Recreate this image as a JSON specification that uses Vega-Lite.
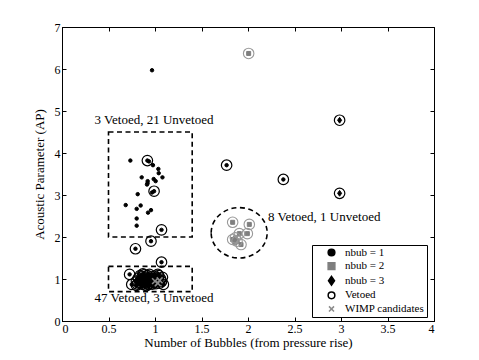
{
  "$schema": "https://vega.github.io/schema/vega-lite/v6.json",
  "autosize": "none",
  "width": 372,
  "height": 294,
  "padding": {"left": 62, "top": 27, "right": 45, "bottom": 39},
  "background": "white",
  "config": {
    "view": {"stroke": "black", "strokeWidth": 1},
    "font": "Liberation Serif",
    "axis": {"labelFont": "Liberation Serif", "titleFont": "Liberation Serif", "labelFontSize": 12, "titleFontSize": 13, "titleFontWeight": "normal", "labelColor": "black", "titleColor": "black", "tickColor": "black", "domainColor": "black", "grid": false, "tickSize": -4, "labelPadding": 6},
    "legend": {"orient": "none", "legendX": 250, "legendY": 218, "strokeColor": "black", "fillColor": "white", "padding": 2, "labelFont": "Liberation Serif", "labelFontSize": 11, "labelColor": "black", "symbolSize": 45, "rowPadding": 0.6, "symbolStrokeWidth": 1.5, "labelOffset": 8, "symbolOffset": 12, "titleFontSize": 0}
  },
  "datasets": {
    "events": [
      {"x": 0.968, "y": 5.97, "nbub": 1, "type": "nbub = 1", "vetoed": false, "wimp": false},
      {"x": 0.735, "y": 3.82, "nbub": 1, "type": "nbub = 1", "vetoed": false, "wimp": false},
      {"x": 0.918, "y": 3.82, "nbub": 1, "type": "nbub = 1", "vetoed": true, "wimp": false},
      {"x": 0.935, "y": 3.80, "nbub": 1, "type": "nbub = 1", "vetoed": false, "wimp": false},
      {"x": 0.978, "y": 3.71, "nbub": 1, "type": "nbub = 1", "vetoed": false, "wimp": false},
      {"x": 1.036, "y": 3.62, "nbub": 1, "type": "nbub = 1", "vetoed": false, "wimp": false},
      {"x": 1.04, "y": 3.52, "nbub": 1, "type": "nbub = 1", "vetoed": false, "wimp": false},
      {"x": 1.08, "y": 3.42, "nbub": 1, "type": "nbub = 1", "vetoed": false, "wimp": false},
      {"x": 0.857, "y": 3.42, "nbub": 1, "type": "nbub = 1", "vetoed": false, "wimp": false},
      {"x": 0.986, "y": 3.38, "nbub": 1, "type": "nbub = 1", "vetoed": false, "wimp": false},
      {"x": 1.007, "y": 3.33, "nbub": 1, "type": "nbub = 1", "vetoed": false, "wimp": false},
      {"x": 0.921, "y": 3.33, "nbub": 1, "type": "nbub = 1", "vetoed": false, "wimp": false},
      {"x": 0.914, "y": 3.25, "nbub": 1, "type": "nbub = 1", "vetoed": false, "wimp": false},
      {"x": 0.92, "y": 3.28, "nbub": 1, "type": "nbub = 1", "vetoed": false, "wimp": false},
      {"x": 0.99, "y": 3.09, "nbub": 1, "type": "nbub = 1", "vetoed": true, "wimp": false},
      {"x": 0.968, "y": 3.06, "nbub": 1, "type": "nbub = 1", "vetoed": false, "wimp": false},
      {"x": 0.814, "y": 3.02, "nbub": 1, "type": "nbub = 1", "vetoed": false, "wimp": false},
      {"x": 0.685, "y": 2.76, "nbub": 1, "type": "nbub = 1", "vetoed": false, "wimp": false},
      {"x": 0.846, "y": 2.75, "nbub": 1, "type": "nbub = 1", "vetoed": false, "wimp": false},
      {"x": 0.803, "y": 2.67, "nbub": 1, "type": "nbub = 1", "vetoed": false, "wimp": false},
      {"x": 0.957, "y": 2.64, "nbub": 1, "type": "nbub = 1", "vetoed": false, "wimp": false},
      {"x": 0.925, "y": 2.58, "nbub": 1, "type": "nbub = 1", "vetoed": false, "wimp": false},
      {"x": 0.803, "y": 2.44, "nbub": 1, "type": "nbub = 1", "vetoed": false, "wimp": false},
      {"x": 0.803, "y": 2.27, "nbub": 1, "type": "nbub = 1", "vetoed": false, "wimp": false},
      {"x": 1.07, "y": 2.17, "nbub": 1, "type": "nbub = 1", "vetoed": true, "wimp": false},
      {"x": 0.79, "y": 1.72, "nbub": 1, "type": "nbub = 1", "vetoed": true, "wimp": false},
      {"x": 0.957, "y": 1.90, "nbub": 1, "type": "nbub = 1", "vetoed": true, "wimp": false},
      {"x": 1.07, "y": 1.40, "nbub": 1, "type": "nbub = 1", "vetoed": true, "wimp": false},
      {"x": 1.77, "y": 3.71, "nbub": 1, "type": "nbub = 1", "vetoed": true, "wimp": false},
      {"x": 2.38, "y": 3.37, "nbub": 1, "type": "nbub = 1", "vetoed": true, "wimp": false},
      {"x": 2.985, "y": 4.78, "nbub": 3, "type": "nbub = 3", "vetoed": true, "wimp": false},
      {"x": 2.985, "y": 3.04, "nbub": 3, "type": "nbub = 3", "vetoed": true, "wimp": false},
      {"x": 2.007, "y": 6.37, "nbub": 2, "type": "nbub = 2", "vetoed": true, "wimp": false},
      {"x": 1.835, "y": 2.35, "nbub": 2, "type": "nbub = 2", "vetoed": true, "wimp": false},
      {"x": 2.014, "y": 2.30, "nbub": 2, "type": "nbub = 2", "vetoed": true, "wimp": false},
      {"x": 1.993, "y": 2.08, "nbub": 2, "type": "nbub = 2", "vetoed": true, "wimp": false},
      {"x": 1.907, "y": 2.08, "nbub": 2, "type": "nbub = 2", "vetoed": true, "wimp": false},
      {"x": 1.864, "y": 1.98, "nbub": 2, "type": "nbub = 2", "vetoed": true, "wimp": false},
      {"x": 1.835, "y": 1.94, "nbub": 2, "type": "nbub = 2", "vetoed": true, "wimp": false},
      {"x": 1.882, "y": 1.90, "nbub": 2, "type": "nbub = 2", "vetoed": true, "wimp": false},
      {"x": 1.925, "y": 1.82, "nbub": 2, "type": "nbub = 2", "vetoed": true, "wimp": false},
      {"x": 1.86, "y": 1.86, "nbub": 2, "type": "nbub = 2", "vetoed": false, "wimp": false},
      {"x": 0.727, "y": 1.11, "nbub": 1, "type": "nbub = 1", "vetoed": true, "wimp": false},
      {"x": 0.75, "y": 0.87, "nbub": 1, "type": "nbub = 1", "vetoed": true, "wimp": false},
      {"x": 1.09, "y": 0.87, "nbub": 1, "type": "nbub = 1", "vetoed": true, "wimp": false},
      {"x": 0.80, "y": 0.85, "nbub": 1, "type": "nbub = 1", "vetoed": true, "wimp": false},
      {"x": 0.80, "y": 0.95, "nbub": 1, "type": "nbub = 1", "vetoed": true, "wimp": false},
      {"x": 0.82, "y": 1.02, "nbub": 1, "type": "nbub = 1", "vetoed": true, "wimp": false},
      {"x": 0.83, "y": 0.90, "nbub": 1, "type": "nbub = 1", "vetoed": true, "wimp": false},
      {"x": 0.84, "y": 1.08, "nbub": 1, "type": "nbub = 1", "vetoed": true, "wimp": false},
      {"x": 0.85, "y": 0.97, "nbub": 1, "type": "nbub = 1", "vetoed": true, "wimp": false},
      {"x": 0.86, "y": 0.88, "nbub": 1, "type": "nbub = 1", "vetoed": true, "wimp": false},
      {"x": 0.86, "y": 1.05, "nbub": 1, "type": "nbub = 1", "vetoed": true, "wimp": false},
      {"x": 0.87, "y": 0.93, "nbub": 1, "type": "nbub = 1", "vetoed": true, "wimp": false},
      {"x": 0.88, "y": 1.00, "nbub": 1, "type": "nbub = 1", "vetoed": true, "wimp": false},
      {"x": 0.88, "y": 1.10, "nbub": 1, "type": "nbub = 1", "vetoed": true, "wimp": false},
      {"x": 0.89, "y": 0.86, "nbub": 1, "type": "nbub = 1", "vetoed": true, "wimp": false},
      {"x": 0.90, "y": 0.96, "nbub": 1, "type": "nbub = 1", "vetoed": true, "wimp": false},
      {"x": 0.90, "y": 1.04, "nbub": 1, "type": "nbub = 1", "vetoed": true, "wimp": false},
      {"x": 0.91, "y": 0.90, "nbub": 1, "type": "nbub = 1", "vetoed": true, "wimp": false},
      {"x": 0.92, "y": 0.99, "nbub": 1, "type": "nbub = 1", "vetoed": true, "wimp": false},
      {"x": 0.92, "y": 1.08, "nbub": 1, "type": "nbub = 1", "vetoed": true, "wimp": false},
      {"x": 0.93, "y": 0.87, "nbub": 1, "type": "nbub = 1", "vetoed": true, "wimp": false},
      {"x": 0.93, "y": 0.94, "nbub": 1, "type": "nbub = 1", "vetoed": true, "wimp": false},
      {"x": 0.94, "y": 1.02, "nbub": 1, "type": "nbub = 1", "vetoed": true, "wimp": false},
      {"x": 0.95, "y": 0.91, "nbub": 1, "type": "nbub = 1", "vetoed": true, "wimp": false},
      {"x": 0.95, "y": 0.98, "nbub": 1, "type": "nbub = 1", "vetoed": true, "wimp": false},
      {"x": 0.96, "y": 1.06, "nbub": 1, "type": "nbub = 1", "vetoed": true, "wimp": false},
      {"x": 0.97, "y": 0.88, "nbub": 1, "type": "nbub = 1", "vetoed": true, "wimp": false},
      {"x": 0.97, "y": 0.95, "nbub": 1, "type": "nbub = 1", "vetoed": true, "wimp": false},
      {"x": 0.98, "y": 1.01, "nbub": 1, "type": "nbub = 1", "vetoed": true, "wimp": false},
      {"x": 0.99, "y": 0.92, "nbub": 1, "type": "nbub = 1", "vetoed": true, "wimp": false},
      {"x": 1.00, "y": 1.07, "nbub": 1, "type": "nbub = 1", "vetoed": true, "wimp": false},
      {"x": 1.01, "y": 0.89, "nbub": 1, "type": "nbub = 1", "vetoed": true, "wimp": false},
      {"x": 1.02, "y": 1.03, "nbub": 1, "type": "nbub = 1", "vetoed": true, "wimp": false},
      {"x": 1.04, "y": 1.08, "nbub": 1, "type": "nbub = 1", "vetoed": true, "wimp": false},
      {"x": 1.06, "y": 1.00, "nbub": 1, "type": "nbub = 1", "vetoed": true, "wimp": false},
      {"x": 1.07, "y": 0.94, "nbub": 1, "type": "nbub = 1", "vetoed": true, "wimp": false},
      {"x": 1.08, "y": 1.04, "nbub": 1, "type": "nbub = 1", "vetoed": true, "wimp": false},
      {"x": 0.84, "y": 0.92, "nbub": 1, "type": "nbub = 1", "vetoed": true, "wimp": false},
      {"x": 0.87, "y": 1.12, "nbub": 1, "type": "nbub = 1", "vetoed": true, "wimp": false},
      {"x": 0.91, "y": 0.84, "nbub": 1, "type": "nbub = 1", "vetoed": true, "wimp": false},
      {"x": 0.94, "y": 1.11, "nbub": 1, "type": "nbub = 1", "vetoed": true, "wimp": false},
      {"x": 0.89, "y": 0.93, "nbub": 1, "type": "nbub = 1", "vetoed": true, "wimp": false},
      {"x": 1.03, "y": 1.11, "nbub": 1, "type": "nbub = 1", "vetoed": true, "wimp": false},
      {"x": 0.81, "y": 0.88, "nbub": 1, "type": "nbub = 1", "vetoed": true, "wimp": false},
      {"x": 1.05, "y": 0.90, "nbub": 1, "type": "nbub = 1", "vetoed": true, "wimp": false},
      {"x": 1.00, "y": 0.95, "nbub": 1, "type": "nbub = 1", "vetoed": false, "wimp": true},
      {"x": 1.03, "y": 0.90, "nbub": 1, "type": "nbub = 1", "vetoed": false, "wimp": true},
      {"x": 1.05, "y": 0.97, "nbub": 1, "type": "nbub = 1", "vetoed": false, "wimp": true}
    ],
    "boxes": [
      {"x1": 0.5, "x2": 1.4, "y1": 2.0, "y2": 4.5},
      {"x1": 0.5, "x2": 1.4, "y1": 0.7, "y2": 1.3}
    ],
    "ellipse": [{"x": 1.905, "y": 2.1}],
    "labels": [
      {"x": 0.35, "y": 4.78, "text": "3 Vetoed, 21 Unvetoed"},
      {"x": 0.35, "y": 0.55, "text": "47 Vetoed, 3 Unvetoed"},
      {"x": 2.215, "y": 2.48, "text": "8 Vetoed, 1 Unvetoed"}
    ]
  },
  "layer": [
    {
      "data": {"name": "boxes"},
      "mark": {"type": "rect", "fill": null, "stroke": "black", "strokeWidth": 1.6, "strokeDash": [5, 3.5]},
      "encoding": {
        "x": {"field": "x1", "type": "quantitative", "scale": {"domain": [0, 4], "nice": false, "zero": false}, "axis": {"orient": "top", "labels": false, "domain": false, "title": null, "values": [0, 0.5, 1, 1.5, 2, 2.5, 3, 3.5, 4]}},
        "x2": {"field": "x2"},
        "y": {"field": "y1", "type": "quantitative", "scale": {"domain": [0, 7], "nice": false, "zero": false}, "axis": {"orient": "right", "labels": false, "domain": false, "title": null, "values": [0, 1, 2, 3, 4, 5, 6, 7]}},
        "y2": {"field": "y2"}
      }
    },
    {
      "data": {"name": "ellipse"},
      "mark": {"type": "point", "shape": "M-1,0A1,0.9,0,1,1,1,0A1,0.9,0,1,1,-1,0Z", "size": 3136, "filled": false, "stroke": "black", "strokeWidth": 1.6, "strokeDash": [5, 3.5], "opacity": 1},
      "encoding": {
        "x": {"field": "x", "type": "quantitative", "axis": null},
        "y": {"field": "y", "type": "quantitative", "axis": null}
      }
    },
    {
      "data": {"name": "events"},
      "mark": {"type": "point", "opacity": 1, "strokeWidth": 1},
      "encoding": {
        "x": {"field": "x", "type": "quantitative", "axis": {"orient": "bottom", "title": "Number of Bubbles (from pressure rise)", "values": [0, 0.5, 1, 1.5, 2, 2.5, 3, 3.5, 4], "format": "~g", "titlePadding": 2}},
        "y": {"field": "y", "type": "quantitative", "axis": {"orient": "left", "title": "Acoustic Parameter (AP)", "values": [0, 1, 2, 3, 4, 5, 6, 7], "titlePadding": 8}},
        "shape": {"field": "type", "type": "nominal", "title": null, "scale": {"domain": ["nbub = 1", "nbub = 2", "nbub = 3", "Vetoed", "WIMP candidates"], "range": ["circle", "square", "M0,-1.3L0.9,0L0,1.3L-0.9,0Z", "circle", "M-0.75,-0.75L0.75,0.75M-0.75,0.75L0.75,-0.75"]}},
        "fill": {"field": "type", "type": "nominal", "title": null, "scale": {"domain": ["nbub = 1", "nbub = 2", "nbub = 3", "Vetoed", "WIMP candidates"], "range": ["black", "#7f7f7f", "black", "transparent", "transparent"]}},
        "stroke": {"field": "type", "type": "nominal", "title": null, "scale": {"domain": ["nbub = 1", "nbub = 2", "nbub = 3", "Vetoed", "WIMP candidates"], "range": ["black", "#7f7f7f", "black", "black", "#8c8c8c"]}},
        "size": {"field": "type", "type": "nominal", "legend": null, "scale": {"domain": ["nbub = 1", "nbub = 2", "nbub = 3"], "range": [12, 20, 38]}}
      }
    },
    {
      "data": {"name": "events"},
      "transform": [{"filter": "datum.vetoed && datum.nbub != 2"}],
      "mark": {"type": "point", "opacity": 1, "strokeWidth": 1.2, "size": 110},
      "encoding": {
        "x": {"field": "x", "type": "quantitative", "axis": null},
        "y": {"field": "y", "type": "quantitative", "axis": null},
        "shape": {"datum": "Vetoed", "type": "nominal"},
        "fill": {"datum": "Vetoed", "type": "nominal"},
        "stroke": {"datum": "Vetoed", "type": "nominal"}
      }
    },
    {
      "data": {"name": "events"},
      "transform": [{"filter": "datum.vetoed && datum.nbub == 2"}],
      "mark": {"type": "point", "opacity": 1, "strokeWidth": 1.1, "size": 110, "filled": false, "stroke": "#999999", "shape": "circle"},
      "encoding": {
        "x": {"field": "x", "type": "quantitative", "axis": null},
        "y": {"field": "y", "type": "quantitative", "axis": null}
      }
    },
    {
      "data": {"name": "events"},
      "transform": [{"filter": "datum.wimp"}],
      "mark": {"type": "point", "opacity": 1, "strokeWidth": 1.5, "size": 60},
      "encoding": {
        "x": {"field": "x", "type": "quantitative", "axis": null},
        "y": {"field": "y", "type": "quantitative", "axis": null},
        "shape": {"datum": "WIMP candidates", "type": "nominal"},
        "fill": {"datum": "WIMP candidates", "type": "nominal"},
        "stroke": {"datum": "WIMP candidates", "type": "nominal"}
      }
    },
    {
      "data": {"name": "labels"},
      "mark": {"type": "text", "align": "left", "baseline": "middle", "font": "Liberation Serif", "fontSize": 13, "color": "black"},
      "encoding": {
        "x": {"field": "x", "type": "quantitative", "axis": null},
        "y": {"field": "y", "type": "quantitative", "axis": null},
        "text": {"field": "text"}
      }
    }
  ],
  "resolve": {"axis": {"x": "independent", "y": "independent"}}
}
